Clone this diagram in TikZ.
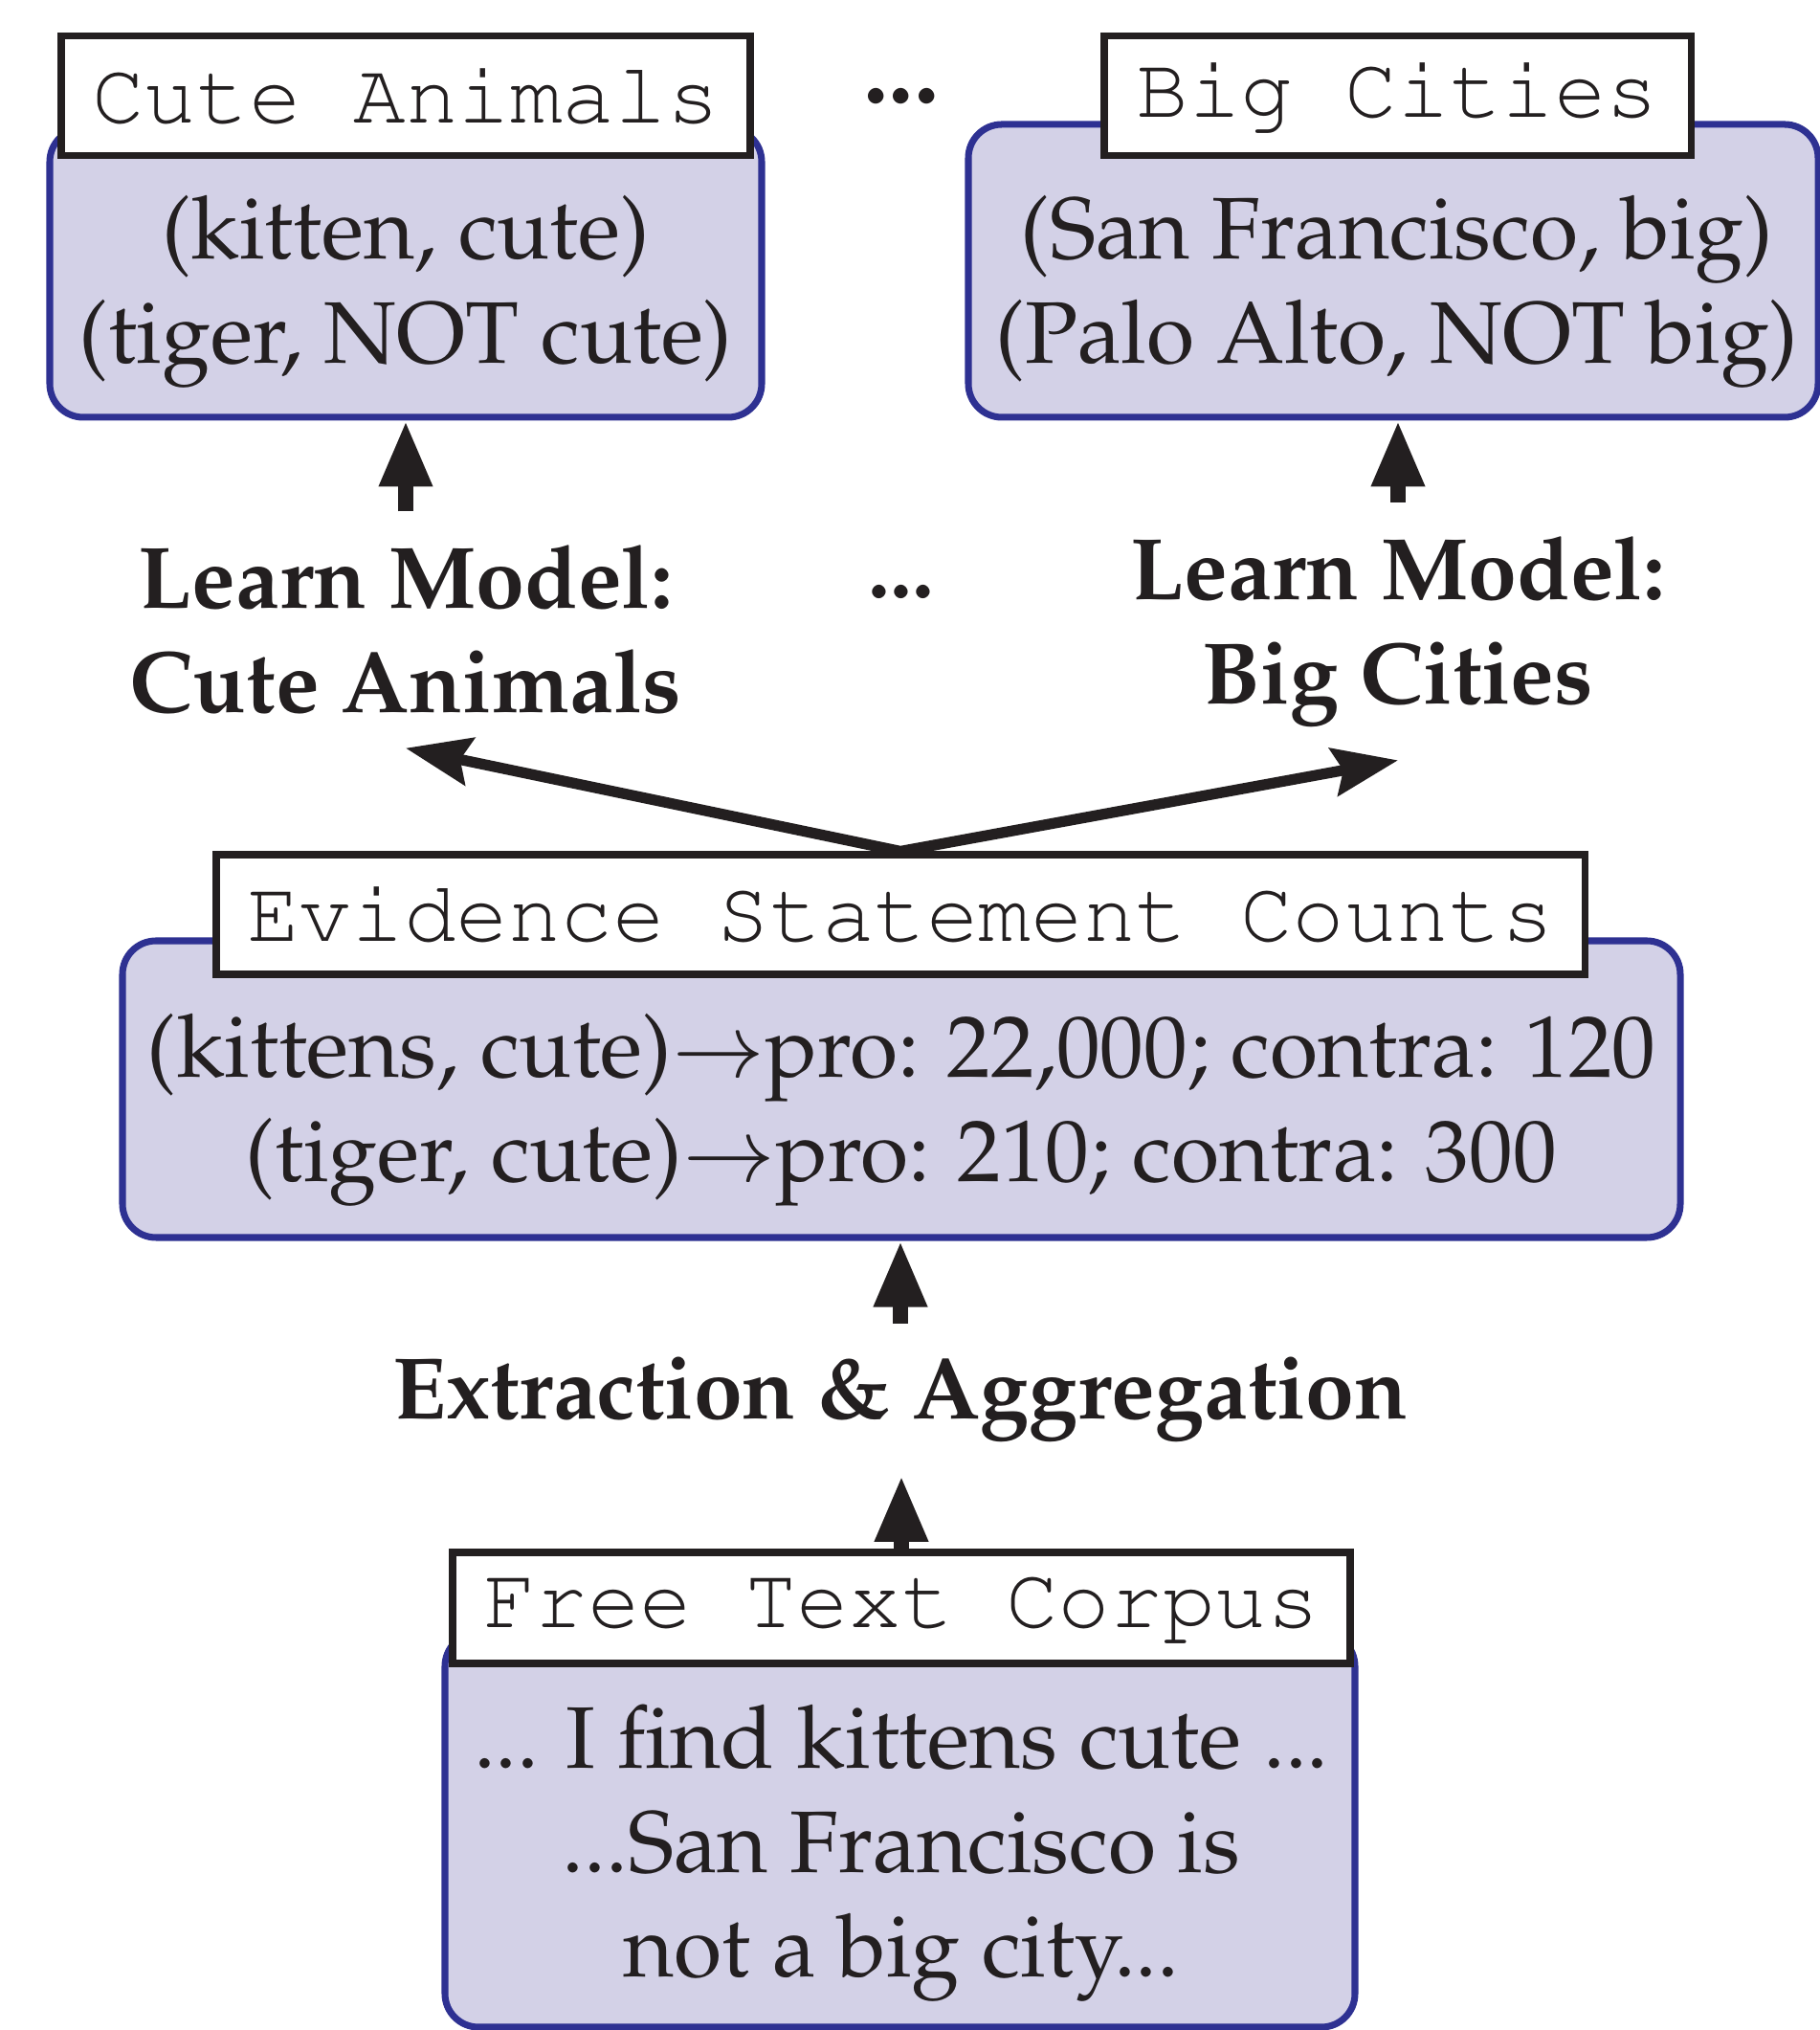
\documentclass[tikz,border=0pt]{standalone}
\usepackage[T1]{fontenc}
\usepackage{mathpazo}
\usepackage{courier}
\usetikzlibrary{arrows.meta,positioning}
\definecolor{panelfill}{RGB}{211,209,231}
\definecolor{panelline}{RGB}{46,49,146}
\definecolor{ink}{RGB}{35,31,32}
\tikzset{panel/.style={draw=panelline, fill=panelfill, line width=2pt, rounded corners=3.5mm, inner sep=0pt},
tag/.style={draw=ink, fill=white, line width=2pt, inner sep=0pt, minimum height=1.25cm, text=ink, font=\ttfamily\fontsize{25.9}{30}\selectfont},
body/.style={inner sep=0pt, align=center, text=ink, font=\fontsize{26}{31}\selectfont},
stage/.style={inner sep=3.5mm, align=center, text=ink, font=\bfseries\fontsize{26}{31}\selectfont},
%arrows between the stages
uparrow/.style={draw=ink, line width=4.5pt, arrows={-Triangle[length=6.9mm,width=5.2mm]}},
fanarrow/.style={draw=ink, line width=3.2pt, line join=miter, arrows={Stealth[length=6.8mm,width=5mm,inset=1mm]-Stealth[length=6.8mm,width=5mm,inset=1mm]}}}

\begin{document}
\begin{tikzpicture}

    \useasboundingbox (0,0) rectangle (19.02,21.21);
    \clip (0,0) rectangle (19.02,21.21);

    % learned models
    \node[panel, minimum width=7.44cm, minimum height=3.02cm] (cutebox) at (4.24,18.36) {};
    \node[tag, minimum width=7.20cm] (cutetag) at (4.24,20.205) {Cute Animals};
    \node[body] (cutetext) at (4.24,18.16) {(kitten, cute)\\(tiger, NOT cute)};

    \node[panel, minimum width=8.88cm, minimum height=3.06cm] (bigbox) at (14.56,18.38) {};
    \node[tag, minimum width=6.13cm] (bigtag) at (14.605,20.205) {Big Cities};
    \node[body] (bigtext) at (14.60,18.16) {(San Francisco, big)\\(Palo Alto, NOT big)};

    \node[text=ink, inner sep=0pt, font=\bfseries\fontsize{30}{36}\selectfont] (topdots) at (9.42,20.20) {...};

    % learning step
    \node[stage] (learnL) at (4.24,14.63) {Learn Model:\\Cute Animals};
    \node[stage] (learnR) at (14.61,14.615) {Learn Model:\\Big Cities};
    \node[text=ink, inner sep=0pt, font=\bfseries\fontsize{26}{31}\selectfont] (middots) at (9.42,15.02) {...};

    % counts
    \node[panel, minimum width=16.28cm, minimum height=3.10cm] (evbox) at (9.42,9.83) {};
    \node[tag, minimum width=14.30cm] (evtag) at (9.41,11.655) {Evidence Statement Counts};
    \node[body] (evtext) at (9.42,9.61) {(kittens, cute)$\rightarrow$pro: 22,000; contra: 120\\(tiger, cute)$\rightarrow$pro: 210; contra: 300};

    \node[stage] (extract) at (9.41,6.585) {Extraction \& Aggregation};

    % corpus
    \node[panel, minimum width=9.51cm, minimum height=4.12cm] (corpusbox) at (9.405,2.09) {};
    \node[tag, minimum width=9.38cm, minimum height=1.16cm] (corpustag) at (9.42,4.41) {Free Text Corpus};
    \node[body] (corpustext) at (9.42,1.845) {... I find kittens cute ...\\...San Francisco is\\not a big city...};

    \draw[uparrow] (learnL.north) -- (learnL.north |- cutebox.south);
    \draw[uparrow] (learnR.north) -- (learnR.north |- bigbox.south);
    \draw[fanarrow] (learnL.south) -- (evtag.north) -- (learnR.south);
    \draw[uparrow] (extract.north) -- (extract.north |- evbox.south);
    \draw[uparrow] (corpustag.north) -- (corpustag.north |- extract.south);

  \end{tikzpicture}
\end{document}
